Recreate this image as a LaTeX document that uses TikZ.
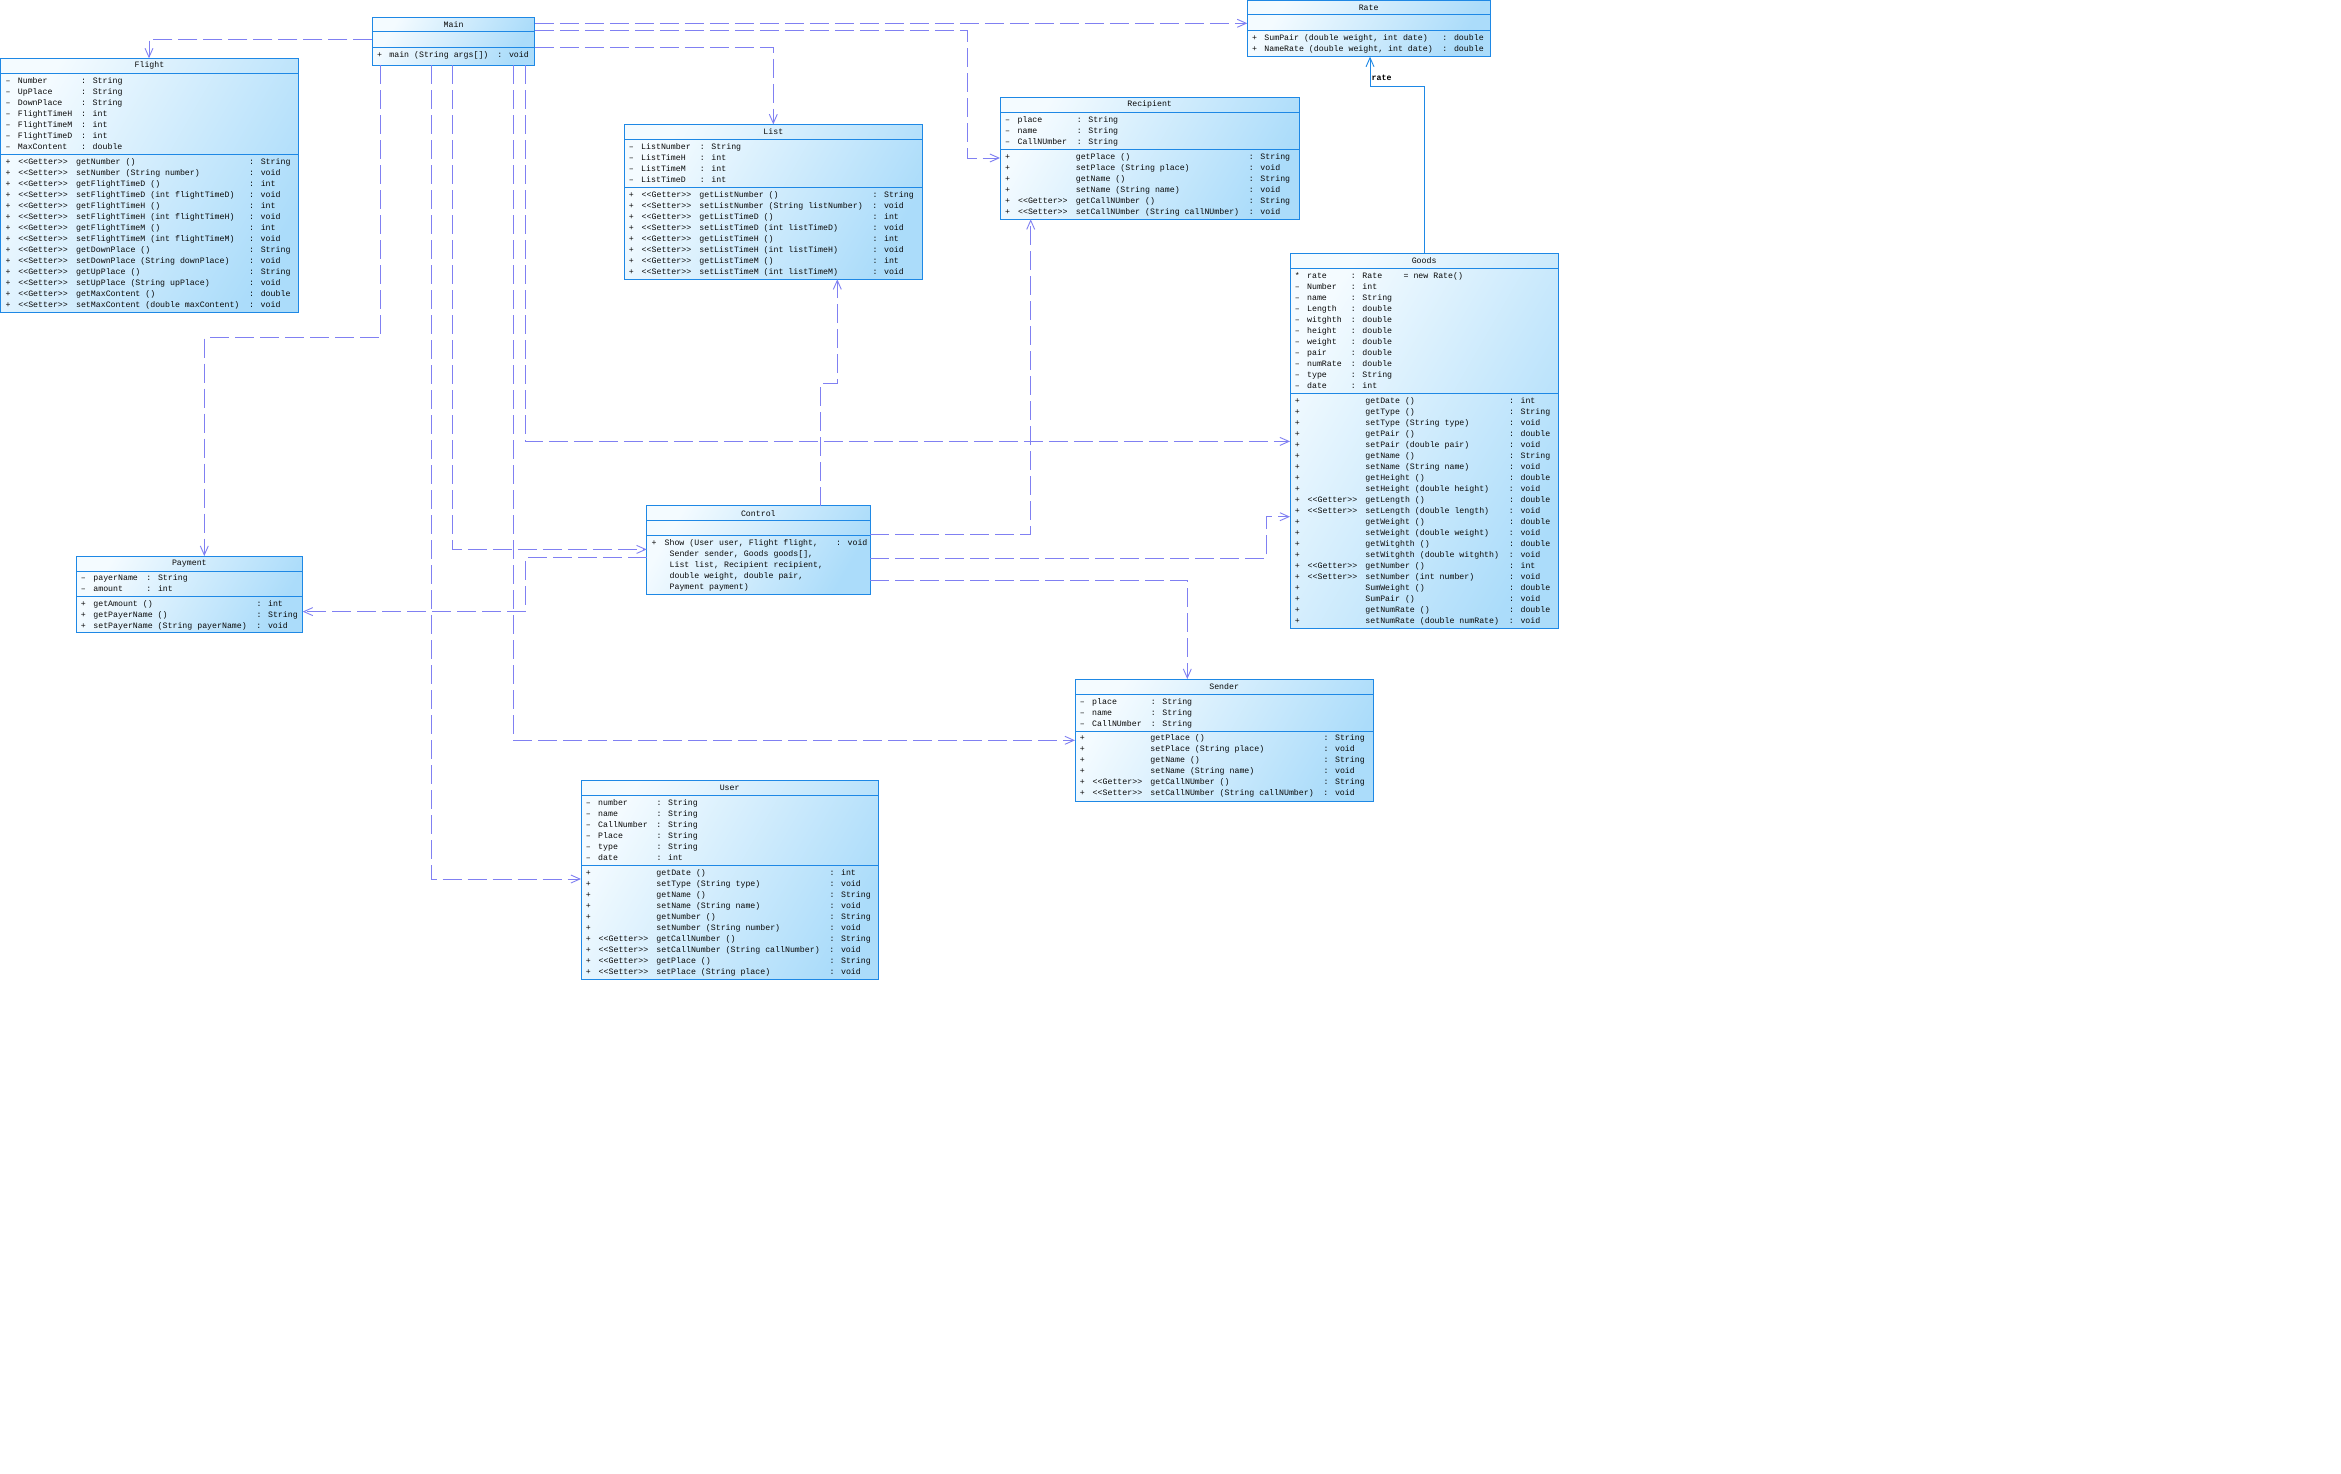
\documentclass[tikz,border=0pt]{standalone}
\usepackage{fontspec}
\newfontfamily\umlfont{Liberation Mono}
\usetikzlibrary{arrows.meta}
\definecolor{boxcol}{HTML}{1E88E5}
\definecolor{fillA}{HTML}{F4FBFF}
\definecolor{fillB}{HTML}{ABDCFA}
\definecolor{depcol}{HTML}{8080F2}
\definecolor{txtcol}{HTML}{0A0A0A}
\newcommand\getst{<{}<Getter>{}>}
\newcommand\setst{<{}<Setter>{}>}
\newcommand\vm{\textendash}
\tikzset{
  umlbox/.style={draw=boxcol, line width=1pt, left color=fillA, right color=fillB, shading angle=60, inner sep=0pt, outer sep=0pt},
  umlline/.style={draw=boxcol, line width=1pt},
  umlfnt/.style={font=\umlfont\fontsize{8.25}{11}\selectfont, text=txtcol},
  umltitle/.style={umlfnt, inner sep=0pt},
  umltext/.style={umlfnt, inner sep=0pt, outer sep=0pt, anchor=north west},
  dep/.style={draw=depcol, line width=0.9pt, dash pattern=on 19pt off 6pt, -{Straight Barb[length=9pt,width=8pt]}},
  assoc/.style={draw=boxcol, line width=0.9pt, -{Straight Barb[length=9pt,width=8pt]}}
}
% name, left, top, right, sep1, sep2, bottom, title
\newcommand\umlclass[8]{%
  \node[umlbox, anchor=north west, minimum width={(#4-#2)*1pt}, minimum height={(#7-#3)*1pt}] (#1) at (#2,#3) {};
  \draw[umlline] (#2,#5) -- (#4,#5) (#2,#6) -- (#4,#6);
  \node[umltitle] (#1-title) at ({(#2+#4)/2},{(#3+#5)/2}) {#8};
}
% name, x, y, colspec, rows
\newcommand\comp[5]{%
  \node[umltext] (#1) at (#2,#3) {\begin{tabular}{#4}#5\end{tabular}};
}
\begin{document}
\begin{tikzpicture}[x=1pt,y=-1pt]
\useasboundingbox (0,0) rectangle (2341,1473);
\fill[white] (0,0) rectangle (2341,1473);

% ---------- Flight
\umlclass{flight}{0.7}{58.3}{298.3}{73.3}{154.3}{312.3}{Flight}
\comp{flight-a}{5.5}{75.4}{@{}p{12.4pt}@{}p{63.3pt}@{}l@{}}{%
\vm & Number & : String\\
\vm & UpPlace & : String\\
\vm & DownPlace & : String\\
\vm & FlightTimeH & : int\\
\vm & FlightTimeM & : int\\
\vm & FlightTimeD & : int\\
\vm & MaxContent & : double\\}
\comp{flight-m}{5.5}{156.4}{@{}p{12.9pt}@{}p{57.7pt}@{}p{173.1pt}@{}l@{}}{%
+ & \getst & getNumber () & : String\\
+ & \setst & setNumber (String number) & : void\\
+ & \getst & getFlightTimeD () & : int\\
+ & \setst & setFlightTimeD (int flightTimeD) & : void\\
+ & \getst & getFlightTimeH () & : int\\
+ & \setst & setFlightTimeH (int flightTimeH) & : void\\
+ & \getst & getFlightTimeM () & : int\\
+ & \setst & setFlightTimeM (int flightTimeM) & : void\\
+ & \getst & getDownPlace () & : String\\
+ & \setst & setDownPlace (String downPlace) & : void\\
+ & \getst & getUpPlace () & : String\\
+ & \setst & setUpPlace (String upPlace) & : void\\
+ & \getst & getMaxContent () & : double\\
+ & \setst & setMaxContent (double maxContent) & : void\\}

% ---------- Main
\umlclass{main}{372.3}{17.3}{534.8}{31.7}{47.7}{65}{Main}
\comp{main-m}{377.1}{49.3}{@{}p{12.3pt}@{}p{108.1pt}@{}l@{}}{%
+ & main (String args[]) & : void\\}

% ---------- Rate
\umlclass{rate}{1247.3}{0.6}{1490}{14}{30}{56.7}{Rate}
\comp{rate-m}{1252.1}{32.3}{@{}p{12.3pt}@{}p{178.1pt}@{}l@{}}{%
+ & SumPair (double weight, int date) & : double\\
+ & NameRate (double weight, int date) & : double\\}

% ---------- List
\umlclass{list}{624}{124.3}{922.7}{139.3}{187.3}{279.3}{List}
\comp{list-a}{628.8}{141.4}{@{}p{12.4pt}@{}p{58.7pt}@{}l@{}}{%
\vm & ListNumber & : String\\
\vm & ListTimeH & : int\\
\vm & ListTimeM & : int\\
\vm & ListTimeD & : int\\}
\comp{list-m}{628.8}{189.4}{@{}p{12.9pt}@{}p{57.7pt}@{}p{173.1pt}@{}l@{}}{%
+ & \getst & getListNumber () & : String\\
+ & \setst & setListNumber (String listNumber) & : void\\
+ & \getst & getListTimeD () & : int\\
+ & \setst & setListTimeD (int listTimeD) & : void\\
+ & \getst & getListTimeH () & : int\\
+ & \setst & setListTimeH (int listTimeH) & : void\\
+ & \getst & getListTimeM () & : int\\
+ & \setst & setListTimeM (int listTimeM) & : void\\}

% ---------- Recipient
\umlclass{recip}{1000}{97}{1299.3}{112.7}{149.3}{219.3}{Recipient}
\comp{recip-a}{1005.2}{114.8}{@{}p{12.4pt}@{}p{59.3pt}@{}l@{}}{%
\vm & place & : String\\
\vm & name & : String\\
\vm & CallNUmber & : String\\}
\comp{recip-m}{1005.2}{151.4}{@{}p{12.9pt}@{}p{57.7pt}@{}p{173.1pt}@{}l@{}}{%
+ & & getPlace () & : String\\
+ & & setPlace (String place) & : void\\
+ & & getName () & : String\\
+ & & setName (String name) & : void\\
+ & \getst & getCallNUmber () & : String\\
+ & \setst & setCallNUmber (String callNUmber) & : void\\}

% ---------- Goods
\umlclass{goods}{1290}{253.3}{1558.3}{268.3}{393.3}{628.3}{Goods}
\comp{goods-a}{1294.8}{270.4}{@{}p{12.3pt}@{}p{43.8pt}@{}p{52.7pt}@{}l@{}}{%
* & rate & : Rate & = new Rate()\\
\vm & Number & : int & \\
\vm & name & : String & \\
\vm & Length & : double & \\
\vm & witghth & : double & \\
\vm & height & : double & \\
\vm & weight & : double & \\
\vm & pair & : double & \\
\vm & numRate & : double & \\
\vm & type & : String & \\
\vm & date & : int & \\}
\comp{goods-m}{1294.8}{395.4}{@{}p{12.9pt}@{}p{57.7pt}@{}p{143.6pt}@{}l@{}}{%
+ & & getDate () & : int\\
+ & & getType () & : String\\
+ & & setType (String type) & : void\\
+ & & getPair () & : double\\
+ & & setPair (double pair) & : void\\
+ & & getName () & : String\\
+ & & setName (String name) & : void\\
+ & & getHeight () & : double\\
+ & & setHeight (double height) & : void\\
+ & \getst & getLength () & : double\\
+ & \setst & setLength (double length) & : void\\
+ & & getWeight () & : double\\
+ & & setWeight (double weight) & : void\\
+ & & getWitghth () & : double\\
+ & & setWitghth (double witghth) & : void\\
+ & \getst & getNumber () & : int\\
+ & \setst & setNumber (int number) & : void\\
+ & & SumWeight () & : double\\
+ & & SumPair () & : void\\
+ & & getNumRate () & : double\\
+ & & setNumRate (double numRate) & : void\\}

% ---------- Control
\umlclass{control}{646.7}{505.7}{870}{520.7}{535}{594.3}{Control}
\comp{control-m}{651.5}{537.6}{@{}p{13.1pt}@{}p{171.5pt}@{}l@{}}{%
+ & Show (User user, Flight flight, & : void\\
 & \hspace*{5pt}Sender sender, Goods goods[], & \\
 & \hspace*{5pt}List list, Recipient recipient, & \\
 & \hspace*{5pt}double weight, double pair, & \\
 & \hspace*{5pt}Payment payment) & \\}

% ---------- Payment
\umlclass{payment}{76}{556}{302.7}{571}{596.7}{632.3}{Payment}
\comp{payment-a}{80.8}{572.9}{@{}p{12.6pt}@{}p{53.1pt}@{}l@{}}{%
\vm & payerName & : String\\
\vm & amount & : int\\}
\comp{payment-m}{80.8}{598.3}{@{}p{12.6pt}@{}p{163.1pt}@{}l@{}}{%
+ & getAmount () & : int\\
+ & getPayerName () & : String\\
+ & setPayerName (String payerName) & : void\\}

% ---------- Sender
\umlclass{sender}{1075}{679}{1373.3}{694}{731}{801}{Sender}
\comp{sender-a}{1079.8}{696.4}{@{}p{12.4pt}@{}p{58.7pt}@{}l@{}}{%
\vm & place & : String\\
\vm & name & : String\\
\vm & CallNUmber & : String\\}
\comp{sender-m}{1079.8}{733.1}{@{}p{12.9pt}@{}p{57.7pt}@{}p{173.1pt}@{}l@{}}{%
+ & & getPlace () & : String\\
+ & & setPlace (String place) & : void\\
+ & & getName () & : String\\
+ & & setName (String name) & : void\\
+ & \getst & getCallNUmber () & : String\\
+ & \setst & setCallNUmber (String callNUmber) & : void\\}

% ---------- User
\umlclass{user}{581}{780.7}{878.3}{795.7}{865.7}{979.7}{User}
\comp{user-a}{585.8}{797.6}{@{}p{12.4pt}@{}p{58.3pt}@{}l@{}}{%
\vm & number & : String\\
\vm & name & : String\\
\vm & CallNumber & : String\\
\vm & Place & : String\\
\vm & type & : String\\
\vm & date & : int\\}
\comp{user-m}{585.8}{867.6}{@{}p{12.9pt}@{}p{57.7pt}@{}p{173.1pt}@{}l@{}}{%
+ & & getDate () & : int\\
+ & & setType (String type) & : void\\
+ & & getName () & : String\\
+ & & setName (String name) & : void\\
+ & & getNumber () & : String\\
+ & & setNumber (String number) & : void\\
+ & \getst & getCallNumber () & : String\\
+ & \setst & setCallNumber (String callNumber) & : void\\
+ & \getst & getPlace () & : String\\
+ & \setst & setPlace (String place) & : void\\}

% ---------- connectors from Main
\draw[dep] (main.west |- 0,39) -| (flight.north -| 149,0);
\draw[dep] (main.east |- 0,23.3) -- (rate.west |- 0,23.3);
\draw[dep] (main.east |- 0,30.7) -| (967.5,158) -- (recip.west |- 0,158);
\draw[dep] (main.east |- 0,47.3) -| (list.north -| 773.3,0);
\draw[dep] (main.south -| 380.7,0) |- (204.3,337.8) -- (payment.north -| 204.3,0);
\draw[dep] (main.south -| 452.3,0) |- (control.west |- 0,549.4);
\draw[dep] (main.south -| 431.5,0) |- (user.west |- 0,879);
\draw[dep] (main.south -| 513.7,0) |- (sender.west |- 0,740.3);
\draw[dep] (main.south -| 525.3,0) |- (goods.west |- 0,441.4);

% ---------- Goods -> Rate
\draw[assoc] (goods.north -| 1424.3,0) |- (1370,86.6) -- (rate.south -| 1370,0);
\node[font=\umlfont\bfseries\fontsize{8.25}{11}\selectfont, text=black, anchor=west, inner sep=0pt] (ratelbl) at (1371.5,77.6) {rate};

% ---------- connectors from Control
\draw[dep] (control.north -| 820,0) |- (837.3,383.7) -- (list.south -| 837.3,0);
\draw[dep] (control.east |- 0,534) -| (recip.south -| 1030.7,0);
\draw[dep] (control.east |- 0,558.3) -| (1266,516.7) -- (goods.west |- 0,516.7);
\draw[dep] (control.east |- 0,580.7) -| (sender.north -| 1187.3,0);
\draw[dep] (control.west |- 0,557.2) -| (525.3,611.6) -- (payment.east |- 0,611.6);
\end{tikzpicture}
\end{document}
